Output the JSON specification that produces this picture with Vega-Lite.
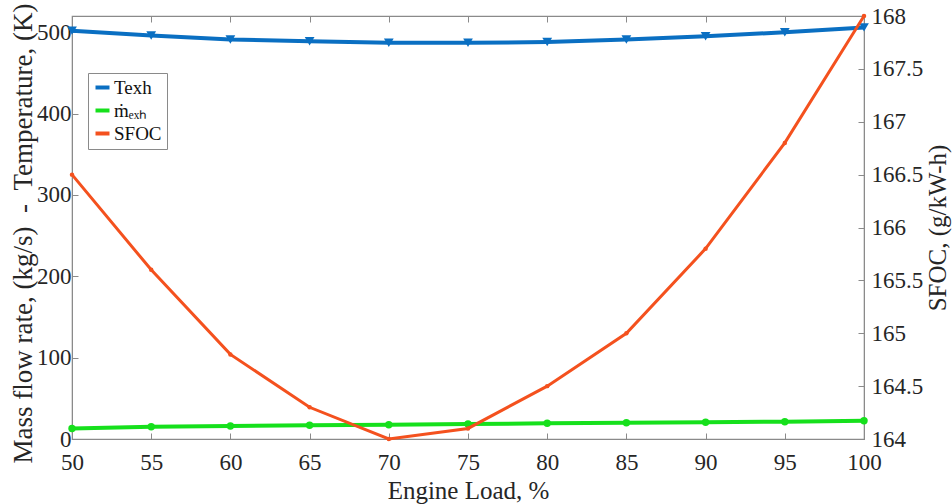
{
  "$schema": "https://vega.github.io/schema/vega-lite/v6.json",
  "width": 792,
  "height": 423,
  "autosize": {"type": "none"},
  "padding": {"left": 72, "top": 16, "right": 88, "bottom": 65},
  "background": "white",
  "config": {
    "view": {"stroke": "#8a8a8a", "strokeWidth": 1.2},
    "font": "Liberation Serif",
    "axis": {
      "labelFont": "Liberation Serif",
      "titleFont": "Liberation Serif",
      "labelFontSize": 23,
      "titleFontSize": 25,
      "titleFontWeight": "normal",
      "labelColor": "#262626",
      "titleColor": "#262626",
      "domainColor": "#8a8a8a",
      "tickColor": "#8a8a8a",
      "tickSize": -6,
      "grid": false
    },
    "legend": {
      "labelFont": "Liberation Serif",
      "labelFontSize": 19,
      "labelColor": "#111"
    }
  },
  "data": {
    "values": [
      {"load": 50, "series": "Texh", "value": 502},
      {"load": 55, "series": "Texh", "value": 496},
      {"load": 60, "series": "Texh", "value": 491},
      {"load": 65, "series": "Texh", "value": 489},
      {"load": 70, "series": "Texh", "value": 487},
      {"load": 75, "series": "Texh", "value": 487},
      {"load": 80, "series": "Texh", "value": 488},
      {"load": 85, "series": "Texh", "value": 491},
      {"load": 90, "series": "Texh", "value": 495},
      {"load": 95, "series": "Texh", "value": 500},
      {"load": 100, "series": "Texh", "value": 506},
      {"load": 50, "series": "ṁₑₓₕ", "value": 13},
      {"load": 55, "series": "ṁₑₓₕ", "value": 15},
      {"load": 60, "series": "ṁₑₓₕ", "value": 16},
      {"load": 65, "series": "ṁₑₓₕ", "value": 17},
      {"load": 70, "series": "ṁₑₓₕ", "value": 17.6},
      {"load": 75, "series": "ṁₑₓₕ", "value": 18.4},
      {"load": 80, "series": "ṁₑₓₕ", "value": 19.3},
      {"load": 85, "series": "ṁₑₓₕ", "value": 20},
      {"load": 90, "series": "ṁₑₓₕ", "value": 20.5},
      {"load": 95, "series": "ṁₑₓₕ", "value": 21.3},
      {"load": 100, "series": "ṁₑₓₕ", "value": 22.5},
      {"load": 50, "series": "SFOC", "value": 166.5},
      {"load": 55, "series": "SFOC", "value": 165.6},
      {"load": 60, "series": "SFOC", "value": 164.8},
      {"load": 65, "series": "SFOC", "value": 164.3},
      {"load": 70, "series": "SFOC", "value": 164.0},
      {"load": 75, "series": "SFOC", "value": 164.1},
      {"load": 80, "series": "SFOC", "value": 164.5},
      {"load": 85, "series": "SFOC", "value": 165.0},
      {"load": 90, "series": "SFOC", "value": 165.8},
      {"load": 95, "series": "SFOC", "value": 166.8},
      {"load": 100, "series": "SFOC", "value": 168.0}
    ]
  },
  "layer": [
    {
      "transform": [{"filter": "datum.series !== 'SFOC'"}],
      "layer": [
        {
          "mark": {"type": "line", "strokeWidth": 4, "clip": false},
          "encoding": {
            "x": {
              "field": "load", "type": "quantitative",
              "scale": {"domain": [50, 100], "nice": false},
              "axis": {
                "title": "Engine Load, %",
                "values": [50, 55, 60, 65, 70, 75, 80, 85, 90, 95, 100],
                "labelPadding": 18,
                "titlePadding": 4,
                "labelFlush": false
              }
            },
            "y": {
              "field": "value", "type": "quantitative",
              "scale": {"domain": [0, 520], "nice": false, "zero": false},
              "axis": {
                "title": "Mass flow rate, (kg/s)\u00a0\u00a0-\u00a0\u00a0Temperature, (K)",
                "titleFontSize": 27,
                "titleX": -49,
                "titleY": 217,
                "titleBaseline": "middle",
                "values": [0, 100, 200, 300, 400, 500],
                "labelPadding": 7,
                "labelFlush": false
              }
            },
            "color": {
              "field": "series", "type": "nominal",
              "scale": {
                "domain": ["Texh", "ṁₑₓₕ", "SFOC"],
                "range": ["#0a6fc2", "#16e01c", "#f4511e"]
              },
              "legend": {
                "title": null,
                "orient": "none",
                "legendX": 16,
                "legendY": 57,
                "symbolType": "stroke",
                "symbolSize": 196,
                "symbolStrokeWidth": 4,
                "strokeColor": "#8a8a8a",
                "fillColor": "white",
                "padding": 5,
                "rowPadding": 3,
                "labelOffset": 2
              }
            },
            "detail": {"field": "series"}
          }
        },
        {
          "mark": {"type": "point", "filled": true, "opacity": 1, "clip": false},
          "encoding": {
            "x": {"field": "load", "type": "quantitative"},
            "y": {"field": "value", "type": "quantitative"},
            "color": {"field": "series", "type": "nominal"},
            "shape": {
              "condition": {"test": "datum.series === 'Texh'", "value": "triangle-down"},
              "value": "circle"
            },
            "size": {
              "condition": {"test": "datum.series === 'Texh'", "value": 95},
              "value": 55
            }
          }
        }
      ]
    },
    {
      "transform": [{"filter": "datum.series === 'SFOC'"}],
      "layer": [
        {
          "mark": {"type": "line", "strokeWidth": 3, "clip": false},
          "encoding": {
            "x": {
              "field": "load", "type": "quantitative",
              "axis": {
                "orient": "top",
                "title": null,
                "labels": false,
                "domain": false,
                "values": [50, 55, 60, 65, 70, 75, 80, 85, 90, 95, 100]
              }
            },
            "y": {
              "field": "value", "type": "quantitative",
              "scale": {"domain": [164, 168], "nice": false, "zero": false},
              "axis": {
                "orient": "right",
                "title": "SFOC, (g/kW-h)",
                "titleAngle": -90,
                "titleX": 73,
                "titleBaseline": "middle",
                "values": [164, 164.5, 165, 165.5, 166, 166.5, 167, 167.5, 168],
                "format": ".1~f",
                "labelPadding": 13,
                "labelFlush": false
              }
            },
            "color": {"field": "series", "type": "nominal"}
          }
        },
        {
          "mark": {"type": "point", "filled": true, "opacity": 1, "size": 20, "clip": false},
          "encoding": {
            "x": {"field": "load", "type": "quantitative"},
            "y": {"field": "value", "type": "quantitative"},
            "color": {"field": "series", "type": "nominal"}
          }
        }
      ]
    }
  ],
  "resolve": {"scale": {"y": "independent"}, "axis": {"x": "independent"}}
}
